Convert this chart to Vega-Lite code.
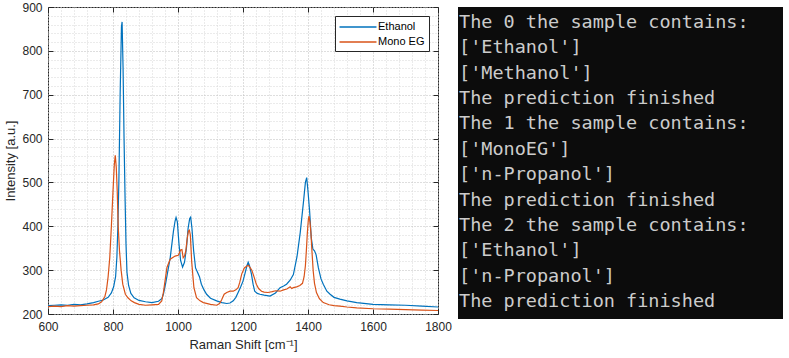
{
  "$schema": "https://vega.github.io/schema/vega-lite/v6.json",
  "padding": {"left": 4, "top": 0, "right": 0, "bottom": 0},
  "spacing": 6,
  "resolve": {"legend": {"color": "independent"}, "scale": {"color": "independent"}},
  "config": {"view": {"stroke": null}, "font": "Liberation Sans"},
  "hconcat": [
    {
      "width": 390,
      "height": 307,
      "view": {"stroke": "#262626", "strokeWidth": 1},
      "data": {
        "values": [
          {"s": "Ethanol", "x": 600, "y": 219}, {"s": "Ethanol", "x": 620, "y": 220}, {"s": "Ethanol", "x": 640, "y": 221}, {"s": "Ethanol", "x": 660, "y": 220}, {"s": "Ethanol", "x": 680, "y": 222}, {"s": "Ethanol", "x": 700, "y": 221}, {"s": "Ethanol", "x": 720, "y": 223}, {"s": "Ethanol", "x": 740, "y": 226}, {"s": "Ethanol", "x": 755, "y": 229}, {"s": "Ethanol", "x": 770, "y": 232}, {"s": "Ethanol", "x": 785, "y": 238}, {"s": "Ethanol", "x": 795, "y": 248}, {"s": "Ethanol", "x": 802, "y": 262}, {"s": "Ethanol", "x": 808, "y": 285}, {"s": "Ethanol", "x": 812, "y": 330}, {"s": "Ethanol", "x": 815, "y": 400}, {"s": "Ethanol", "x": 818, "y": 500}, {"s": "Ethanol", "x": 822, "y": 700}, {"s": "Ethanol", "x": 826, "y": 855}, {"s": "Ethanol", "x": 828, "y": 866}, {"s": "Ethanol", "x": 831, "y": 760}, {"s": "Ethanol", "x": 834, "y": 600}, {"s": "Ethanol", "x": 837, "y": 470}, {"s": "Ethanol", "x": 840, "y": 360}, {"s": "Ethanol", "x": 843, "y": 295}, {"s": "Ethanol", "x": 848, "y": 265}, {"s": "Ethanol", "x": 855, "y": 247}, {"s": "Ethanol", "x": 865, "y": 237}, {"s": "Ethanol", "x": 880, "y": 231}, {"s": "Ethanol", "x": 900, "y": 228}, {"s": "Ethanol", "x": 920, "y": 226}, {"s": "Ethanol", "x": 940, "y": 229}, {"s": "Ethanol", "x": 950, "y": 235}, {"s": "Ethanol", "x": 955, "y": 245}, {"s": "Ethanol", "x": 962, "y": 270}, {"s": "Ethanol", "x": 968, "y": 295}, {"s": "Ethanol", "x": 976, "y": 328}, {"s": "Ethanol", "x": 986, "y": 389}, {"s": "Ethanol", "x": 991, "y": 412}, {"s": "Ethanol", "x": 994, "y": 420}, {"s": "Ethanol", "x": 998, "y": 410}, {"s": "Ethanol", "x": 1003, "y": 360}, {"s": "Ethanol", "x": 1008, "y": 322}, {"s": "Ethanol", "x": 1014, "y": 307}, {"s": "Ethanol", "x": 1020, "y": 318}, {"s": "Ethanol", "x": 1026, "y": 350}, {"s": "Ethanol", "x": 1031, "y": 395}, {"s": "Ethanol", "x": 1036, "y": 418}, {"s": "Ethanol", "x": 1039, "y": 421}, {"s": "Ethanol", "x": 1043, "y": 395}, {"s": "Ethanol", "x": 1048, "y": 345}, {"s": "Ethanol", "x": 1054, "y": 305}, {"s": "Ethanol", "x": 1060, "y": 295}, {"s": "Ethanol", "x": 1066, "y": 285}, {"s": "Ethanol", "x": 1072, "y": 268}, {"s": "Ethanol", "x": 1080, "y": 255}, {"s": "Ethanol", "x": 1088, "y": 245}, {"s": "Ethanol", "x": 1100, "y": 236}, {"s": "Ethanol", "x": 1119, "y": 230}, {"s": "Ethanol", "x": 1135, "y": 226}, {"s": "Ethanol", "x": 1150, "y": 224}, {"s": "Ethanol", "x": 1160, "y": 225}, {"s": "Ethanol", "x": 1170, "y": 230}, {"s": "Ethanol", "x": 1178, "y": 238}, {"s": "Ethanol", "x": 1185, "y": 249}, {"s": "Ethanol", "x": 1193, "y": 262}, {"s": "Ethanol", "x": 1200, "y": 275}, {"s": "Ethanol", "x": 1207, "y": 295}, {"s": "Ethanol", "x": 1212, "y": 310}, {"s": "Ethanol", "x": 1216, "y": 318}, {"s": "Ethanol", "x": 1220, "y": 310}, {"s": "Ethanol", "x": 1226, "y": 291}, {"s": "Ethanol", "x": 1231, "y": 268}, {"s": "Ethanol", "x": 1236, "y": 252}, {"s": "Ethanol", "x": 1244, "y": 247}, {"s": "Ethanol", "x": 1252, "y": 245}, {"s": "Ethanol", "x": 1265, "y": 243}, {"s": "Ethanol", "x": 1283, "y": 241}, {"s": "Ethanol", "x": 1300, "y": 248}, {"s": "Ethanol", "x": 1314, "y": 260}, {"s": "Ethanol", "x": 1325, "y": 264}, {"s": "Ethanol", "x": 1334, "y": 268}, {"s": "Ethanol", "x": 1345, "y": 277}, {"s": "Ethanol", "x": 1355, "y": 290}, {"s": "Ethanol", "x": 1366, "y": 330}, {"s": "Ethanol", "x": 1376, "y": 385}, {"s": "Ethanol", "x": 1386, "y": 455}, {"s": "Ethanol", "x": 1392, "y": 500}, {"s": "Ethanol", "x": 1396, "y": 511}, {"s": "Ethanol", "x": 1400, "y": 480}, {"s": "Ethanol", "x": 1405, "y": 434}, {"s": "Ethanol", "x": 1410, "y": 374}, {"s": "Ethanol", "x": 1415, "y": 348}, {"s": "Ethanol", "x": 1420, "y": 344}, {"s": "Ethanol", "x": 1425, "y": 335}, {"s": "Ethanol", "x": 1432, "y": 305}, {"s": "Ethanol", "x": 1440, "y": 280}, {"s": "Ethanol", "x": 1447, "y": 268}, {"s": "Ethanol", "x": 1458, "y": 252}, {"s": "Ethanol", "x": 1468, "y": 245}, {"s": "Ethanol", "x": 1480, "y": 238}, {"s": "Ethanol", "x": 1498, "y": 234}, {"s": "Ethanol", "x": 1520, "y": 230}, {"s": "Ethanol", "x": 1550, "y": 226}, {"s": "Ethanol", "x": 1600, "y": 222}, {"s": "Ethanol", "x": 1650, "y": 221}, {"s": "Ethanol", "x": 1700, "y": 220}, {"s": "Ethanol", "x": 1750, "y": 218}, {"s": "Ethanol", "x": 1800, "y": 216},
          {"s": "Mono EG", "x": 600, "y": 217}, {"s": "Mono EG", "x": 620, "y": 218}, {"s": "Mono EG", "x": 640, "y": 217}, {"s": "Mono EG", "x": 660, "y": 219}, {"s": "Mono EG", "x": 680, "y": 218}, {"s": "Mono EG", "x": 700, "y": 219}, {"s": "Mono EG", "x": 720, "y": 220}, {"s": "Mono EG", "x": 740, "y": 221}, {"s": "Mono EG", "x": 755, "y": 223}, {"s": "Mono EG", "x": 765, "y": 228}, {"s": "Mono EG", "x": 775, "y": 240}, {"s": "Mono EG", "x": 780, "y": 255}, {"s": "Mono EG", "x": 785, "y": 285}, {"s": "Mono EG", "x": 790, "y": 328}, {"s": "Mono EG", "x": 795, "y": 400}, {"s": "Mono EG", "x": 800, "y": 480}, {"s": "Mono EG", "x": 804, "y": 540}, {"s": "Mono EG", "x": 807, "y": 562}, {"s": "Mono EG", "x": 810, "y": 535}, {"s": "Mono EG", "x": 813, "y": 480}, {"s": "Mono EG", "x": 816, "y": 400}, {"s": "Mono EG", "x": 820, "y": 344}, {"s": "Mono EG", "x": 825, "y": 300}, {"s": "Mono EG", "x": 830, "y": 268}, {"s": "Mono EG", "x": 838, "y": 245}, {"s": "Mono EG", "x": 846, "y": 237}, {"s": "Mono EG", "x": 856, "y": 230}, {"s": "Mono EG", "x": 866, "y": 226}, {"s": "Mono EG", "x": 880, "y": 222}, {"s": "Mono EG", "x": 900, "y": 220}, {"s": "Mono EG", "x": 920, "y": 221}, {"s": "Mono EG", "x": 940, "y": 222}, {"s": "Mono EG", "x": 950, "y": 230}, {"s": "Mono EG", "x": 955, "y": 249}, {"s": "Mono EG", "x": 960, "y": 275}, {"s": "Mono EG", "x": 966, "y": 306}, {"s": "Mono EG", "x": 976, "y": 325}, {"s": "Mono EG", "x": 991, "y": 332}, {"s": "Mono EG", "x": 1001, "y": 334}, {"s": "Mono EG", "x": 1008, "y": 346}, {"s": "Mono EG", "x": 1012, "y": 347}, {"s": "Mono EG", "x": 1016, "y": 328}, {"s": "Mono EG", "x": 1020, "y": 332}, {"s": "Mono EG", "x": 1024, "y": 344}, {"s": "Mono EG", "x": 1028, "y": 370}, {"s": "Mono EG", "x": 1032, "y": 389}, {"s": "Mono EG", "x": 1035, "y": 391}, {"s": "Mono EG", "x": 1038, "y": 380}, {"s": "Mono EG", "x": 1042, "y": 321}, {"s": "Mono EG", "x": 1046, "y": 285}, {"s": "Mono EG", "x": 1049, "y": 260}, {"s": "Mono EG", "x": 1057, "y": 237}, {"s": "Mono EG", "x": 1068, "y": 230}, {"s": "Mono EG", "x": 1078, "y": 226}, {"s": "Mono EG", "x": 1100, "y": 222}, {"s": "Mono EG", "x": 1119, "y": 220}, {"s": "Mono EG", "x": 1128, "y": 224}, {"s": "Mono EG", "x": 1134, "y": 232}, {"s": "Mono EG", "x": 1142, "y": 245}, {"s": "Mono EG", "x": 1150, "y": 249}, {"s": "Mono EG", "x": 1160, "y": 252}, {"s": "Mono EG", "x": 1170, "y": 252}, {"s": "Mono EG", "x": 1178, "y": 255}, {"s": "Mono EG", "x": 1185, "y": 260}, {"s": "Mono EG", "x": 1190, "y": 272}, {"s": "Mono EG", "x": 1196, "y": 291}, {"s": "Mono EG", "x": 1204, "y": 305}, {"s": "Mono EG", "x": 1211, "y": 309}, {"s": "Mono EG", "x": 1216, "y": 311}, {"s": "Mono EG", "x": 1221, "y": 307}, {"s": "Mono EG", "x": 1227, "y": 300}, {"s": "Mono EG", "x": 1233, "y": 287}, {"s": "Mono EG", "x": 1238, "y": 275}, {"s": "Mono EG", "x": 1241, "y": 268}, {"s": "Mono EG", "x": 1248, "y": 258}, {"s": "Mono EG", "x": 1257, "y": 252}, {"s": "Mono EG", "x": 1265, "y": 250}, {"s": "Mono EG", "x": 1277, "y": 249}, {"s": "Mono EG", "x": 1290, "y": 251}, {"s": "Mono EG", "x": 1300, "y": 253}, {"s": "Mono EG", "x": 1314, "y": 252}, {"s": "Mono EG", "x": 1325, "y": 255}, {"s": "Mono EG", "x": 1335, "y": 257}, {"s": "Mono EG", "x": 1345, "y": 262}, {"s": "Mono EG", "x": 1350, "y": 258}, {"s": "Mono EG", "x": 1355, "y": 260}, {"s": "Mono EG", "x": 1365, "y": 262}, {"s": "Mono EG", "x": 1375, "y": 265}, {"s": "Mono EG", "x": 1383, "y": 270}, {"s": "Mono EG", "x": 1388, "y": 285}, {"s": "Mono EG", "x": 1392, "y": 310}, {"s": "Mono EG", "x": 1395, "y": 345}, {"s": "Mono EG", "x": 1398, "y": 385}, {"s": "Mono EG", "x": 1401, "y": 415}, {"s": "Mono EG", "x": 1403, "y": 423}, {"s": "Mono EG", "x": 1406, "y": 410}, {"s": "Mono EG", "x": 1409, "y": 385}, {"s": "Mono EG", "x": 1412, "y": 345}, {"s": "Mono EG", "x": 1416, "y": 298}, {"s": "Mono EG", "x": 1420, "y": 270}, {"s": "Mono EG", "x": 1426, "y": 249}, {"s": "Mono EG", "x": 1435, "y": 235}, {"s": "Mono EG", "x": 1447, "y": 226}, {"s": "Mono EG", "x": 1465, "y": 221}, {"s": "Mono EG", "x": 1480, "y": 219}, {"s": "Mono EG", "x": 1498, "y": 218}, {"s": "Mono EG", "x": 1520, "y": 216}, {"s": "Mono EG", "x": 1550, "y": 214}, {"s": "Mono EG", "x": 1600, "y": 212}, {"s": "Mono EG", "x": 1650, "y": 211}, {"s": "Mono EG", "x": 1700, "y": 210}, {"s": "Mono EG", "x": 1750, "y": 209}, {"s": "Mono EG", "x": 1800, "y": 208}
        ]
      },
      "resolve": {"axis": {"x": "independent", "y": "independent"}},
      "layer": [
        {
          "mark": {"type": "line", "strokeWidth": 1.2, "clip": true},
          "encoding": {
            "x": {
              "field": "x", "type": "quantitative",
              "scale": {"domain": [600, 1800], "nice": false, "zero": false},
              "axis": {
                "title": "Raman Shift [cm⁻¹]",
                "values": [600, 640, 680, 720, 760, 800, 840, 880, 920, 960, 1000, 1040, 1080, 1120, 1160, 1200, 1240, 1280, 1320, 1360, 1400, 1440, 1480, 1520, 1560, 1600, 1640, 1680, 1720, 1760, 1800],
                "labelExpr": "datum.value % 200 === 0 ? '' + datum.value : ''",
                "labelOverlap": false, "labelFlush": false,
                "labelFont": "Liberation Sans", "labelFontSize": 12, "labelColor": "#262626", "labelPadding": 7,
                "titleFont": "Liberation Sans", "titleFontSize": 13, "titleFontWeight": "normal", "titleColor": "#262626", "titlePadding": 6,
                "domain": false,
                "tickSize": 0,
                "grid": true, "gridDash": [1, 2],
                "gridColor": {"condition": {"test": "datum.value % 200 === 0", "value": "#bcbcbc"}, "value": "#d6d6d6"}
              }
            },
            "y": {
              "field": "y", "type": "quantitative",
              "scale": {"domain": [200, 900], "nice": false, "zero": false},
              "axis": {
                "title": "Intensity [a.u.]",
                "values": [200, 220, 240, 260, 280, 300, 320, 340, 360, 380, 400, 420, 440, 460, 480, 500, 520, 540, 560, 580, 600, 620, 640, 660, 680, 700, 720, 740, 760, 780, 800, 820, 840, 860, 880, 900],
                "labelExpr": "datum.value % 100 === 0 ? '' + datum.value : ''",
                "labelOverlap": false, "labelFlush": false,
                "labelFont": "Liberation Sans", "labelFontSize": 12, "labelColor": "#262626", "labelPadding": 6,
                "titleFont": "Liberation Sans", "titleFontSize": 13, "titleFontWeight": "normal", "titleColor": "#262626", "titlePadding": 4,
                "domain": false,
                "tickSize": 0,
                "grid": true, "gridDash": [1, 2],
                "gridColor": {"condition": {"test": "datum.value % 100 === 0", "value": "#bcbcbc"}, "value": "#d6d6d6"}
              }
            },
            "color": {
              "field": "s", "type": "nominal",
              "scale": {"domain": ["Ethanol", "Mono EG"], "range": ["#0072BD", "#D95319"]},
              "legend": {
                "title": null, "orient": "top-right", "offset": 9,
                "strokeColor": "#262626", "fillColor": "white", "padding": 4,
                "symbolType": "M-3.08,0H3.08", "symbolSize": 144, "symbolStrokeWidth": 1.3, "symbolOffset": 12,
                "labelFont": "Liberation Sans", "labelFontSize": 11, "labelColor": "#000000", "labelOffset": 13, "rowPadding": 3
              }
            }
          }
        },
        {
          "data": {"values": []},
          "mark": {"type": "point"},
          "encoding": {
            "x": {"field": "x", "type": "quantitative", "axis": {"orient": "bottom", "values": [600, 800, 1000, 1200, 1400, 1600, 1800], "labels": false, "grid": false, "domain": false, "tickSize": -5, "tickColor": "#262626", "title": null}},
            "y": {"field": "y", "type": "quantitative", "axis": {"orient": "left", "values": [200, 300, 400, 500, 600, 700, 800, 900], "labels": false, "grid": false, "domain": false, "tickSize": -5, "tickColor": "#262626", "title": null}}
          }
        },
        {
          "data": {"values": []},
          "mark": {"type": "point"},
          "encoding": {
            "x": {"field": "x", "type": "quantitative", "axis": {"orient": "top", "values": [600, 800, 1000, 1200, 1400, 1600, 1800], "labels": false, "grid": false, "domain": false, "tickSize": -5, "tickColor": "#262626", "title": null}},
            "y": {"field": "y", "type": "quantitative", "axis": {"orient": "right", "values": [200, 300, 400, 500, 600, 700, 800, 900], "labels": false, "grid": false, "domain": false, "tickSize": -5, "tickColor": "#262626", "title": null}}
          }
        }
      ]
    },
    {
      "width": 325,
      "height": 312,
      "view": {"fill": "#0c0c0c", "stroke": null},
      "data": {
        "values": [
          {"i": 1, "t": "The 0 the sample contains:"},
          {"i": 2, "t": "['Ethanol']"},
          {"i": 3, "t": "['Methanol']"},
          {"i": 4, "t": "The prediction finished"},
          {"i": 5, "t": "The 1 the sample contains:"},
          {"i": 6, "t": "['MonoEG']"},
          {"i": 7, "t": "['n-Propanol']"},
          {"i": 8, "t": "The prediction finished"},
          {"i": 9, "t": "The 2 the sample contains:"},
          {"i": 10, "t": "['Ethanol']"},
          {"i": 11, "t": "['n-Propanol']"},
          {"i": 12, "t": "The prediction finished"}
        ]
      },
      "mark": {"type": "text", "align": "left", "baseline": "middle", "font": "DejaVu Sans Mono", "fontSize": 18.5, "color": "#cccccc", "dx": 1},
      "encoding": {
        "x": {"datum": 0, "type": "quantitative", "scale": {"domain": [0, 1]}, "axis": null},
        "y": {"field": "i", "type": "quantitative", "scale": {"domain": [0.41, 12.71], "reverse": true, "nice": false, "zero": false}, "axis": null},
        "text": {"field": "t"}
      }
    }
  ]
}
